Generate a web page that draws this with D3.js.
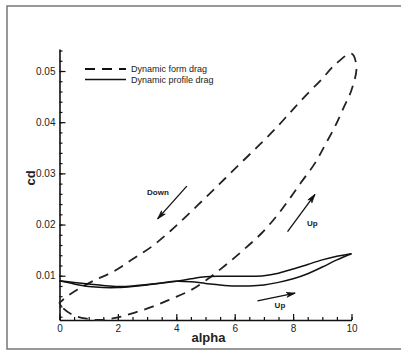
<!DOCTYPE html>
<meta charset="utf-8">
<script src="https://d3js.org/d3.v7.min.js"></script>
<style>
  body { margin: 0; background: #fff; }
  text { font-family: "Liberation Sans", Arial, sans-serif; }
</style>
<div id="chart"></div>
<script>
// form drag loop (alpha, cd) - traced around the hysteresis loop
const formAlpha = [0, 0.13, 0.47, 0.93, 1.39, 1.96, 2.58, 3.21, 3.84, 4.47, 5.04, 5.67, 6.29, 6.92, 7.44, 7.85, 8.27, 8.75, 9.09, 9.43, 9.72, 10.0, 10.17, 10.0, 9.43, 8.98, 8.35, 7.9, 7.44, 6.87, 6.24, 5.67, 5.1, 4.41, 3.79, 3.16, 2.47, 1.84, 1.16, 0.59, 0.25, 0.06];
const formCd    = [0.0047, 0.0036, 0.0023, 0.0016, 0.00135, 0.0018, 0.0028, 0.0040, 0.0055, 0.0071, 0.0092, 0.0120, 0.0150, 0.0183, 0.0217, 0.0248, 0.0282, 0.0320, 0.0355, 0.0391, 0.0427, 0.0463, 0.0508, 0.0534, 0.0512, 0.0484, 0.0447, 0.0419, 0.0390, 0.0357, 0.0322, 0.0290, 0.0258, 0.0220, 0.0187, 0.0157, 0.0131, 0.0108, 0.0090, 0.0072, 0.0059, 0.0050];

// profile drag, two branches
const profAlpha = [0, 0.5, 1, 1.5, 2, 2.5, 3, 3.5, 4, 4.5, 5, 5.5, 6, 6.5, 7, 7.5, 8, 8.5, 9, 9.5, 10];
const profUpper = [0.0090, 0.0087, 0.0084, 0.0081, 0.0079, 0.0080, 0.0083, 0.0086, 0.0089, 0.0094, 0.0098, 0.0099, 0.0099, 0.0099, 0.0100, 0.0105, 0.0113, 0.0122, 0.0131, 0.0138, 0.0143];
const profLower = [0.0090, 0.0084, 0.0079, 0.0077, 0.0077, 0.0079, 0.0082, 0.0086, 0.0089, 0.0088, 0.0085, 0.0082, 0.0080, 0.0080, 0.0082, 0.0087, 0.0094, 0.0104, 0.0117, 0.0131, 0.0143];

const xTicks = [0, 2, 4, 6, 8, 10];
const yTicks = [0.01, 0.02, 0.03, 0.04, 0.05];
const legendLabels = ["Dynamic form drag", "Dynamic profile drag"];

// annotation arrows: [alpha0, cd0, alpha1, cd1, label, labelAlpha, labelCd]
const arrows = [
  [4.36, 0.0275, 3.36, 0.0211, "Down", 3.37, 0.0257],
  [7.81, 0.0186, 8.75, 0.0259, "Up", 8.66, 0.0197],
  [6.78, 0.0051, 8.07, 0.0066, "Up", 7.55, 0.0037]
];

const W = 401, H = 359;
const svg = d3.select("#chart").append("svg")
  .attr("width", W).attr("height", H);

// outer frame
svg.append("rect")
  .attr("x", 7).attr("y", 6)
  .attr("width", 420).attr("height", 343)
  .attr("fill", "none")
  .attr("stroke", "#777")
  .attr("stroke-width", 1.5);

const x = d3.scaleLinear().domain([0, 10]).range([59.5, 351.5]);
const y = d3.scaleLinear().domain([0.00135, 0.0543]).range([320, 49]);

// minor ticks
svg.append("g")
  .attr("transform", "translate(0,320)")
  .call(d3.axisBottom(x).tickValues(d3.range(0, 10.01, 0.5)).tickSize(-3).tickFormat("").tickSizeOuter(0))
  .call(g => g.select(".domain").remove());
svg.append("g")
  .attr("transform", "translate(59.5,0)")
  .call(d3.axisLeft(y).tickValues(d3.range(0.002, 0.0545, 0.002)).tickSize(-3).tickFormat("").tickSizeOuter(0))
  .call(g => g.select(".domain").remove());

// major axes
const xAxis = svg.append("g")
  .attr("transform", "translate(0,320)")
  .call(d3.axisBottom(x).tickValues(xTicks).tickSize(-6).tickSizeOuter(0).tickPadding(5).tickFormat(d3.format("d")));
const yAxis = svg.append("g")
  .attr("transform", "translate(59.5,0)")
  .call(d3.axisLeft(y).tickValues(yTicks).tickSize(-6).tickSizeOuter(0).tickPadding(4).tickFormat(d3.format(".2f")));

[xAxis, yAxis].forEach(g => {
  g.selectAll("text").attr("font-size", 10).attr("fill", "#222")
    .attr("font-family", "'Liberation Sans', Arial, sans-serif");
  g.select(".domain").attr("stroke-width", 1.6).attr("stroke", "#111");
});
svg.selectAll(".tick line").attr("stroke", "#111").attr("stroke-width", 1.2);

// axis titles
svg.append("text")
  .attr("x", x(5.1)).attr("y", 342)
  .attr("text-anchor", "middle")
  .attr("font-size", 13).attr("font-weight", "bold").attr("fill", "#222")
  .text("alpha");
svg.append("text")
  .attr("transform", "translate(35,178) rotate(-90)")
  .attr("text-anchor", "middle")
  .attr("font-size", 13).attr("font-weight", "bold").attr("fill", "#222")
  .text("cd");

// curves
const line = d3.line().x(d => x(d[0])).y(d => y(d[1]));

const formData = formAlpha.map((a, i) => [a, formCd[i]]);
svg.append("path")
  .datum(formData)
  .attr("d", line.curve(d3.curveCatmullRomClosed.alpha(0.5)))
  .attr("fill", "none")
  .attr("stroke", "#222")
  .attr("stroke-width", 1.8)
  .attr("stroke-dasharray", "10,7");

const openLine = d3.line().x(d => x(d[0])).y(d => y(d[1])).curve(d3.curveCatmullRom.alpha(0.5));
[profUpper, profLower].forEach(vals => {
  svg.append("path")
    .datum(profAlpha.map((a, i) => [a, vals[i]]))
    .attr("d", openLine)
    .attr("fill", "none")
    .attr("stroke", "#111")
    .attr("stroke-width", 1.5);
});

// legend
const legend = svg.append("g");
legendLabels.forEach((lab, i) => {
  const ly = 69 + i * 10.5;
  legend.append("line")
    .attr("x1", 85).attr("x2", 126).attr("y1", ly).attr("y2", ly)
    .attr("stroke", "#111")
    .attr("stroke-width", i === 0 ? 1.8 : 1.5)
    .attr("stroke-dasharray", i === 0 ? "10,7" : null);
  legend.append("text")
    .attr("x", 131).attr("y", ly + 3.2)
    .attr("font-size", 9).attr("fill", "#222")
    .text(lab);
});

// arrows
arrows.forEach(a => {
  const x0 = x(a[0]), y0 = y(a[1]), x1 = x(a[2]), y1 = y(a[3]);
  const ang = Math.atan2(y1 - y0, x1 - x0);
  const hl = 9, hw = 0.28;
  svg.append("line")
    .attr("x1", x0).attr("y1", y0).attr("x2", x1).attr("y2", y1)
    .attr("stroke", "#111").attr("stroke-width", 1.3);
  const p1 = [x1 - hl * Math.cos(ang - hw), y1 - hl * Math.sin(ang - hw)];
  const p2 = [x1 - hl * Math.cos(ang + hw), y1 - hl * Math.sin(ang + hw)];
  const pm = [x1 - hl * 0.7 * Math.cos(ang), y1 - hl * 0.7 * Math.sin(ang)];
  svg.append("path")
    .attr("d", `M${p1}L${x1},${y1}L${p2}L${pm}Z`)
    .attr("fill", "#111").attr("stroke", "#111").attr("stroke-width", 0.8);
  svg.append("text")
    .attr("x", x(a[5])).attr("y", y(a[6]))
    .attr("text-anchor", "middle")
    .attr("font-size", 8).attr("font-weight", "bold").attr("fill", "#222")
    .text(a[4]);
});
</script>
